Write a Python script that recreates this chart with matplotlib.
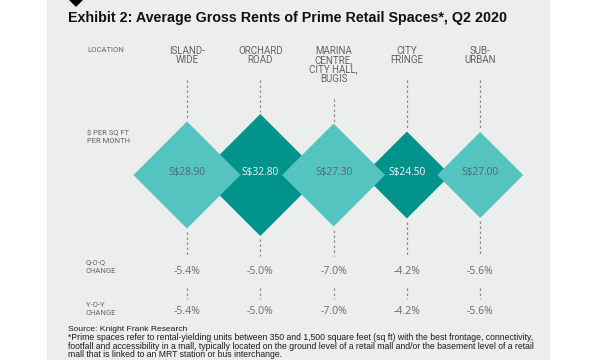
import matplotlib
matplotlib.use("Agg")
import matplotlib.pyplot as plt
from matplotlib.patches import Polygon, Rectangle

# data
locations = ["ISLAND-\nWIDE", "ORCHARD\nROAD", "MARINA\nCENTRE,\nCITY HALL,\nBUGIS", "CITY\nFRINGE", "SUB-\nURBAN"]
rents = [28.90, 32.80, 27.30, 24.50, 27.00]
qoq_change = [-5.4, -5.0, -7.0, -4.2, -5.6]
yoy_change = [-5.4, -5.0, -7.0, -4.2, -5.6]

# diamond half-diagonal in px and shade per column
diamond_half = [53.5, 61.0, 51.5, 43.5, 43.0]
shade = ["light", "dark", "light", "dark", "light"]

LIGHT = "#55c3c0"
DARK = "#00938c"
PANEL = "#eceeed"
GREY = "#5f6366"

fig = plt.figure(figsize=(6, 3.6), dpi=100)
fig.patch.set_facecolor("white")
ax = fig.add_axes([0, 0, 1, 1])
ax.set_xlim(0, 600)
ax.set_ylim(360, 0)
ax.axis("off")

# background panel + small black diamond top left
ax.add_patch(Rectangle((47, 0), 502, 360, color=PANEL, zorder=0))
ax.add_patch(Polygon([(76, -8), (83, -1), (76, 6), (69, -1)], closed=True, color="black", zorder=1))

ax.text(68, 18, "Exhibit 2: Average Gross Rents of Prime Retail Spaces*, Q2 2020",
        fontsize=10.3, fontweight="bold", family="Liberation Sans", color="#111111", va="center")

# row labels
small = dict(family="Roboto", fontsize=5.5, color=GREY, va="top", ha="left")
ax.text(87, 47.5, "LOCATION", **small)
ax.text(87, 129.5, "$ PER SQ FT\nPER MONTH", linespacing=1.3, **small)
ax.text(86, 259.5, "Q-O-Q\nCHANGE", linespacing=1.45, **small)
ax.text(86, 302, "Y-O-Y\nCHANGE", linespacing=1.35, **small)

x0, step, yc = 187, 73.3, 175
dash = dict(color="#8c8c8c", lw=0.9, linestyle=(0, (2, 2)), zorder=1)

for i, loc in enumerate(locations):
    xc = x0 + i * step
    h = diamond_half[i]
    nlines = len(loc.split("\n"))
    ax.text(xc, 45.5, loc, family="Roboto", fontsize=7.0, color=GREY,
            ha="center", va="top", linespacing=0.95)
    top_start = 50 + (nlines - 1) * 9.3 + 21
    ax.plot([xc, xc], [top_start, yc - h - 2], **dash)
    ax.plot([xc, xc], [yc + h + 3, 256], **dash)
    ax.plot([xc, xc], [288, 299], **dash)

    col = LIGHT if shade[i] == "light" else DARK
    z = 3 if shade[i] == "light" else 2
    ax.add_patch(Polygon([(xc, yc - h), (xc + h, yc), (xc, yc + h), (xc - h, yc)],
                         closed=True, color=col, zorder=z, lw=0))
    tcol = "#4d6a72" if shade[i] == "light" else "#eef9f8"
    ax.text(xc, yc - 2.5, f"S${rents[i]:.2f}", family="Open Sans", fontsize=7.3,
            color=tcol, ha="center", va="center", zorder=z + 0.5)

    ax.text(xc, 271, f"{qoq_change[i]:.1f}%", family="Open Sans", fontsize=7.6,
            color="#6a6d70", ha="center", va="center")
    ax.text(xc, 312, f"{yoy_change[i]:.1f}%", family="Open Sans", fontsize=7.6,
            color="#6a6d70", ha="center", va="center")

ax.text(68, 329.5, "Source: Knight Frank Research", fontsize=6.1, family="Liberation Sans",
        color="#1a1a1a", ha="left", va="center")
notes = ["*Prime spaces refer to rental-yielding units between 350 and 1,500 square feet (sq ft) with the best frontage, connectivity,",
         "footfall and accessibility in a mall, typically located on the ground level of a retail mall and/or the basement level of a retail",
         "mall that is linked to an MRT station or bus interchange."]
ax.text(68, 333.5, "\n".join(notes), fontsize=6.2, family="Liberation Sans", color="#1a1a1a",
        ha="left", va="top", linespacing=0.9)

fig.savefig("out.png", dpi=100, facecolor=fig.get_facecolor())
